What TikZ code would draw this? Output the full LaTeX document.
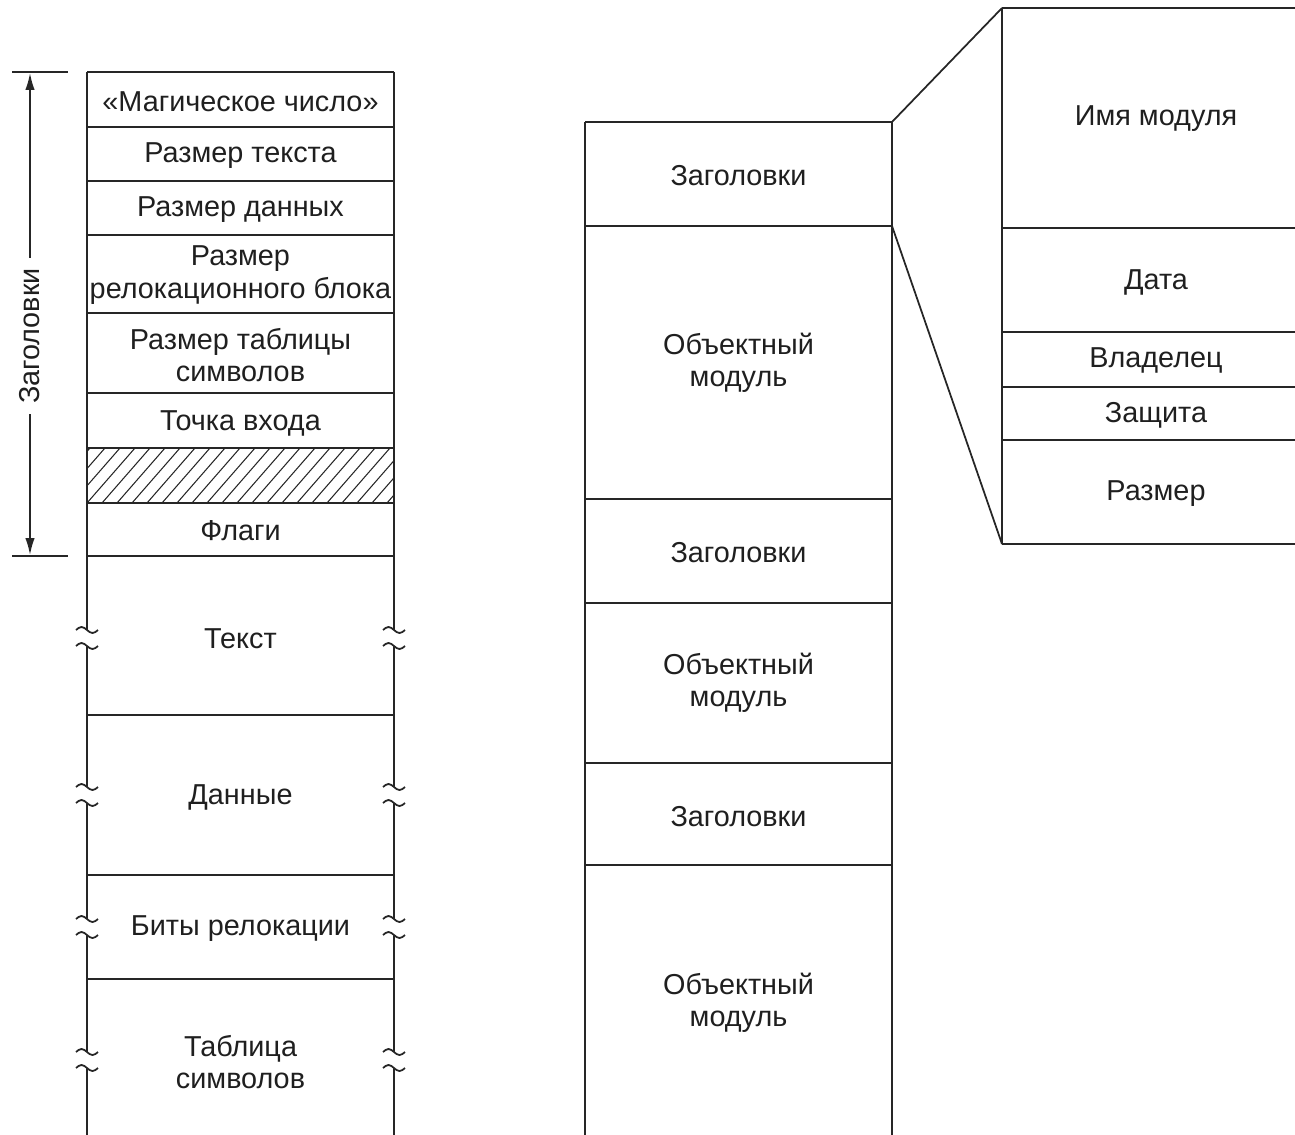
\documentclass[tikz,border=0pt]{standalone}
\usepackage{fontspec}
\setmainfont{Liberation Sans}
\usetikzlibrary{arrows.meta}
\begin{document}
\begin{tikzpicture}[x=0.02cm,y=-0.02cm,
  ln/.style={draw=black!85, line width=1pt},
  hatch/.style={draw=black!85, line width=0.6pt},
  lbl/.style={font=\fontsize{16.4}{18.5}\selectfont, text=black!88, align=center, inner sep=0pt},
  tip/.style={-{Latex[length=3.4mm,width=1.9mm]}}]
\useasboundingbox (0,0) rectangle (1295,1135);

% ---------- left column ----------
\foreach \y in {72,127,181,235,313,393,448,503,556,715,875,979}
  \draw[ln] (87,\y) -- (394,\y);
\begin{scope}
  \clip (87,448) rectangle (394,503);
  \foreach \i in {0,...,26}
    \draw[hatch] (27+\i*15,503) -- (75+\i*15,448);
\end{scope}
\foreach \x in {87,394}{
  \draw[ln] (\x,72) -- (\x,630);
  \draw[ln] (\x,646) -- (\x,787);
  \draw[ln] (\x,803) -- (\x,919);
  \draw[ln] (\x,935) -- (\x,1052);
  \draw[ln] (\x,1068) -- (\x,1135);
  \foreach \c in {638,795,927,1060}{
    \draw[ln] (\x-11,\c-8) sin (\x-5.5,\c-11) cos (\x,\c-8) sin (\x+5.5,\c-5) cos (\x+11,\c-8);
    \draw[ln] (\x-11,\c+8) sin (\x-5.5,\c+5) cos (\x,\c+8) sin (\x+5.5,\c+11) cos (\x+11,\c+8);
  }
}
\node[lbl] (magic) at (240.5,102) {«Магическое число»};
\node[lbl] (tsize) at (240.5,156) {Размер текста};
\node[lbl] (dsize) at (240.5,210) {Размер данных};
\node[lbl] (rsize) at (240.5,275) {Размер\\релокационного блока};
\node[lbl] (ssize) at (240.5,355) {Размер таблицы\\символов};
\node[lbl] (entry) at (240.5,423) {Точка входа};
\node[lbl] (flags) at (240.5,531) {Флаги};
\node[lbl] (text)  at (240.5,639) {Текст};
\node[lbl] (data)  at (240.5,797) {Данные};
\node[lbl] (rbits) at (240.5,929) {Биты релокации};
\node[lbl] (symt)  at (240.5,1062) {Таблица\\символов};

% ---------- left bracket ----------
\coordinate (bt1) at (12,72);  \coordinate (bt2) at (68,72);
\coordinate (bb1) at (12,556); \coordinate (bb2) at (68,556);
\draw[ln] (bt1) -- (bt2);
\draw[ln] (bb1) -- (bb2);
\node[lbl, rotate=90, inner xsep=0.2cm] (hl) at (30,336) {Заголовки};
\coordinate (atop) at (30,73);
\coordinate (abot) at (30,555);
\draw[ln, tip] (hl.east) -- (atop);
\draw[ln, tip] (hl.west) -- (abot);

% ---------- middle column ----------
\foreach \y in {122,226,499,603,763,865}
  \draw[ln] (585,\y) -- (892,\y);
\coordinate (mtl) at (585,122);
\coordinate (mtr) at (892,122);
\coordinate (mhr) at (892,226);
\draw[ln] (585,1135) -- (mtl);
\draw[ln] (mtr) -- (892,1135);
\node[lbl] (h1) at (738.5,176) {Заголовки};
\node[lbl] (o1) at (738.5,363) {Объектный\\модуль};
\node[lbl] (h2) at (738.5,553) {Заголовки};
\node[lbl] (o2) at (738.5,683) {Объектный\\модуль};
\node[lbl] (h3) at (738.5,817) {Заголовки};
\node[lbl] (o3) at (738.5,1003) {Объектный\\модуль};

% ---------- right column ----------
\foreach \y in {8,228,332,387,440,544}
  \draw[ln] (1002,\y) -- (1295,\y);
\coordinate (rtl) at (1002,8);
\coordinate (rbl) at (1002,544);
\draw[ln] (rtl) -- (rbl);
\node[lbl] (name)  at (1156,119) {Имя модуля};
\node[lbl] (date)  at (1156,282) {Дата};
\node[lbl] (owner) at (1156,360) {Владелец};
\node[lbl] (prot)  at (1156,415) {Защита};
\node[lbl] (size)  at (1156,494) {Размер};

% ---------- zoom lines ----------
\draw[ln] (mtr) -- (rtl);
\draw[ln] (mhr) -- (rbl);
\end{tikzpicture}
\end{document}
